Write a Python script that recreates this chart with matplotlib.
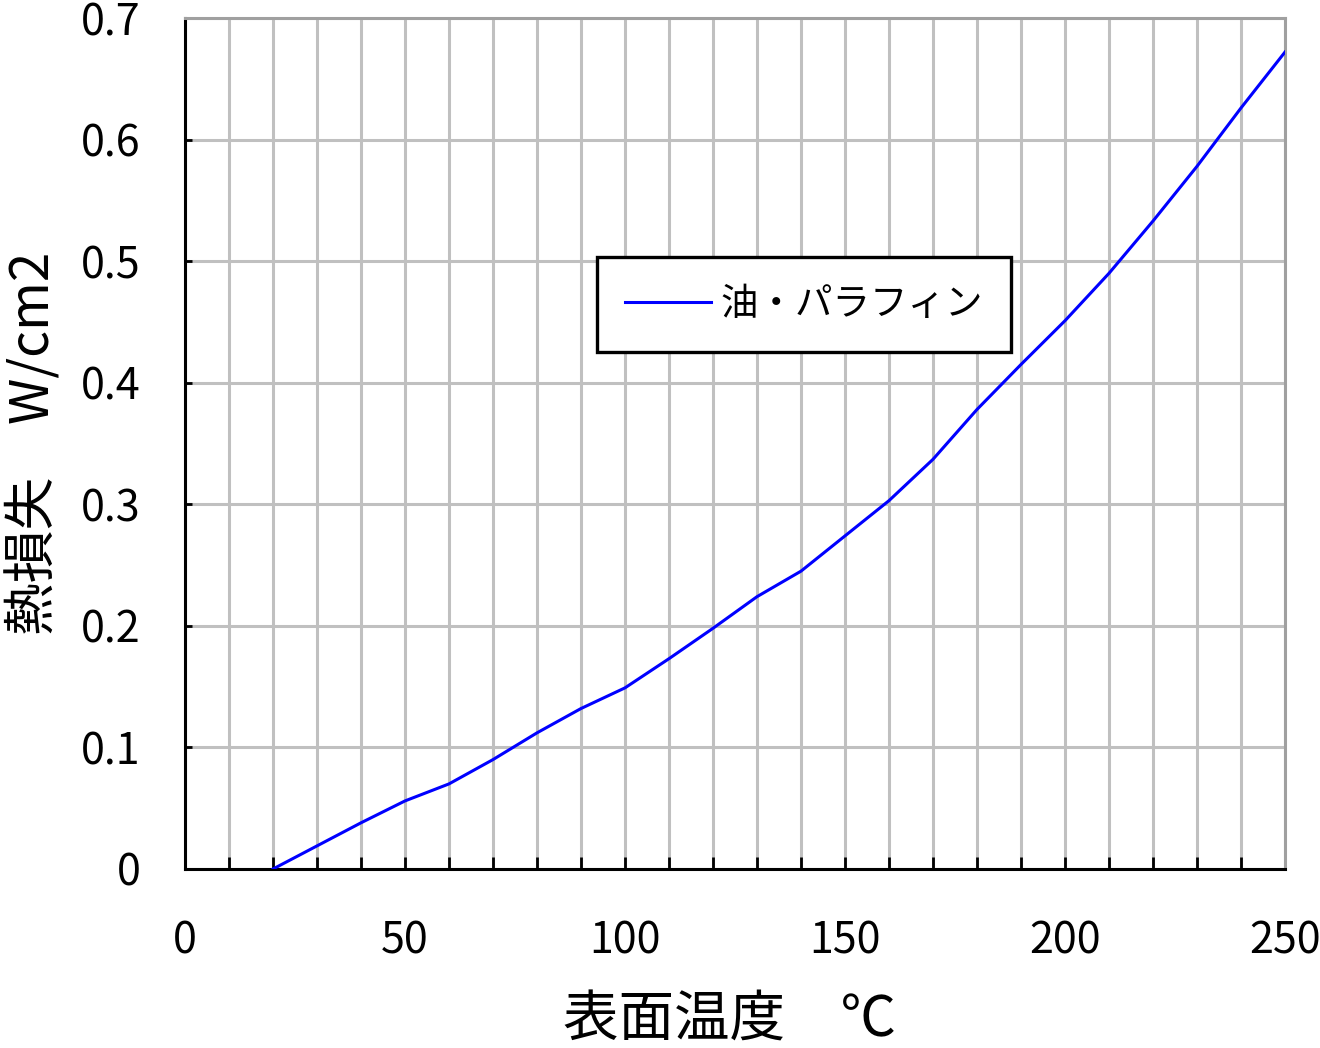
import matplotlib
matplotlib.use('Agg')
import matplotlib.pyplot as plt
from matplotlib.ticker import MultipleLocator

# surface temperature (deg C) and heat loss (W/cm2)
temps = [20, 30, 40, 50, 60, 70, 80, 90, 100, 110, 120, 130, 140, 150,
         160, 170, 180, 190, 200, 210, 220, 230, 240, 250]
heat_loss = [0.0, 0.019, 0.038, 0.056, 0.070, 0.090, 0.112, 0.132, 0.149,
             0.173, 0.198, 0.224, 0.245, 0.274, 0.303, 0.337, 0.378, 0.415,
             0.451, 0.490, 0.533, 0.578, 0.626, 0.672]
series_name = '油・パラフィン'
x_label = '表面温度\u3000℃'
y_label = '熱損失\u3000W/cm2'


def main():
    plt.rcParams['font.family'] = ['Noto Sans CJK JP', 'DejaVu Sans']

    fig = plt.figure(figsize=(13.2, 10.48), dpi=100, facecolor='w')
    ax = fig.add_axes([185 / 1320, 1 - 869 / 1048, 1100 / 1320, 851 / 1048])

    ax.plot(temps, heat_loss, color='#0000ff', linewidth=2.2, label=series_name, zorder=3)

    ax.set_xlim(0, 250)
    ax.set_ylim(0, 0.7)
    ax.xaxis.set_major_locator(MultipleLocator(50))
    ax.xaxis.set_minor_locator(MultipleLocator(10))
    ax.yaxis.set_major_locator(MultipleLocator(0.1))
    ax.yaxis.set_major_formatter(plt.FuncFormatter(lambda v, p: '0' if v == 0 else '%.1f' % v))

    # grid every 10 deg and every 0.1
    ax.grid(True, which='both', axis='x', color='#c0c0c0', linewidth=2.2)
    ax.grid(True, which='major', axis='y', color='#c0c0c0', linewidth=2.2)
    ax.set_axisbelow(True)

    ax.tick_params(axis='x', which='both', direction='in', length=9, width=2, color='black',
                   labelsize=31, pad=36)
    ax.tick_params(axis='y', which='major', direction='in', length=5, width=2, color='black',
                   labelsize=31, pad=32)

    for side in ['left', 'bottom']:
        ax.spines[side].set_color('black')
        ax.spines[side].set_linewidth(2.2)
    for side in ['top', 'right']:
        ax.spines[side].set_color('#a0a0a0')
        ax.spines[side].set_linewidth(2.2)

    ax.set_xlabel(x_label, fontsize=40)
    ax.xaxis.set_label_coords(0.495, -0.145)
    ax.set_ylabel(y_label, fontsize=38)
    ax.yaxis.set_label_coords(-0.112, 0.5)

    leg = ax.legend(loc='upper left', bbox_to_anchor=(0.3745, 0.719), borderaxespad=0,
                    fancybox=False, framealpha=1, edgecolor='black', fontsize=27,
                    handlelength=2.3, handletextpad=0.25, borderpad=0.75)
    leg.get_frame().set_linewidth(2.4)

    plt.savefig('out.png', dpi=100, facecolor='w')


if __name__ == '__main__':
    main()
